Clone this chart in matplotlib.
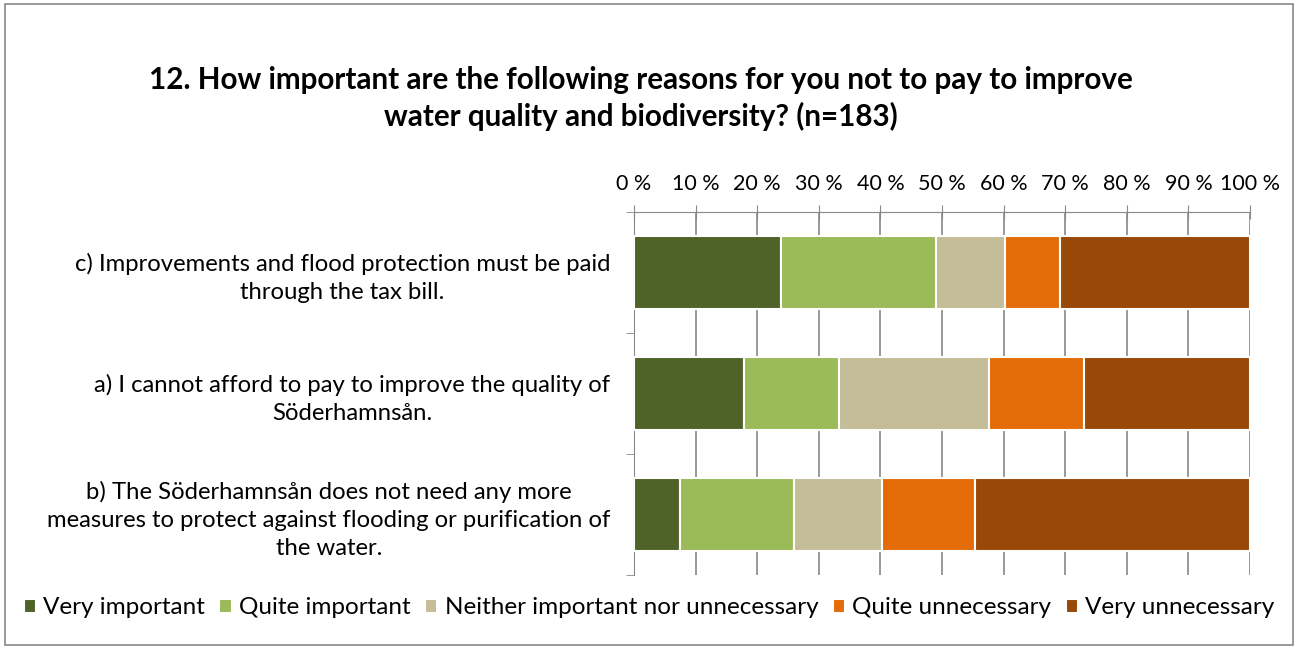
import matplotlib.pyplot as plt
from matplotlib.patches import Rectangle
import numpy as np

plt.rcParams['font.family'] = ['Lato', 'DejaVu Sans']

questions = [
    'c) Improvements and flood protection must be paid\nthrough the tax bill.',
    'a) I cannot afford to pay to improve the quality of\nSöderhamnsån.',
    'b) The Söderhamnsån does not need any more\nmeasures to protect against flooding or purification of\nthe water.',
]
answers = ['Very important', 'Quite important', 'Neither important nor unnecessary',
           'Quite unnecessary', 'Very unnecessary']
# percent of respondents, one list per answer, in question order
very_imp = [23.8, 17.9, 7.4]
quite_imp = [25.2, 15.4, 18.6]
neither = [11.2, 24.4, 14.2]
quite_unn = [9.0, 15.4, 15.2]
very_unn = [30.8, 26.9, 44.6]
colors = ['#4f6228', '#9bbb59', '#c4bd97', '#e36c09', '#984807']

series = [very_imp, quite_imp, neither, quite_unn, very_unn]

fig = plt.figure(figsize=(12.98, 6.49), dpi=100)
fig.patches.append(Rectangle((0.004, 0.006), 0.992, 0.988, transform=fig.transFigure,
                             fill=False, edgecolor='#888888', lw=1.2))

ax = fig.add_axes([634 / 1298, 1 - 575 / 649, 616 / 1298, (575 - 212) / 649])
y = np.arange(len(questions))
left = np.zeros(len(questions))
for vals, col, name in zip(series, colors, answers):
    ax.barh(y, vals, left=left, height=0.6, color=col, edgecolor='white', lw=1.5,
            label=name, zorder=3)
    left += np.array(vals)

ax.set_xlim(0, 100)
ax.set_ylim(2.5, -0.5)
ax.xaxis.tick_top()
ax.set_xticks(np.arange(0, 101, 10))
ax.set_xticklabels([f'{v} %' for v in range(0, 101, 10)], fontsize=15.5)
ax.tick_params(axis='x', direction='inout', length=10, color='#888888', pad=8)
ax.grid(axis='x', color='#888888', lw=1.2, zorder=0)
ax.set_yticks(y)
ax.set_yticklabels(questions, fontsize=17.2, ha='right', multialignment='center',
                   linespacing=1.4)
ax.set_yticks([-0.5, 0.5, 1.5, 2.5], minor=True)
ax.tick_params(axis='y', which='major', length=0, pad=17)
ax.tick_params(axis='y', which='minor', length=6, color='#888888')
for s in ['right', 'bottom']:
    ax.spines[s].set_visible(False)
ax.spines['top'].set_color('#888888')
ax.spines['left'].set_color('#888888')

fig.text(0.494, 0.848, '12. How important are the following reasons for you not to pay to improve\n'
         'water quality and biodiversity? (n=183)', ha='center', va='center',
         fontsize=21.3, fontweight='bold', linespacing=1.3)

fig.legend(loc='center', bbox_to_anchor=(0.5, 1 - 608 / 649), ncol=5, frameon=False,
           fontsize=17.5, handlelength=0.5, handleheight=0.5, handletextpad=0.3,
           columnspacing=0.6)

fig.savefig('out.png', dpi=100)
